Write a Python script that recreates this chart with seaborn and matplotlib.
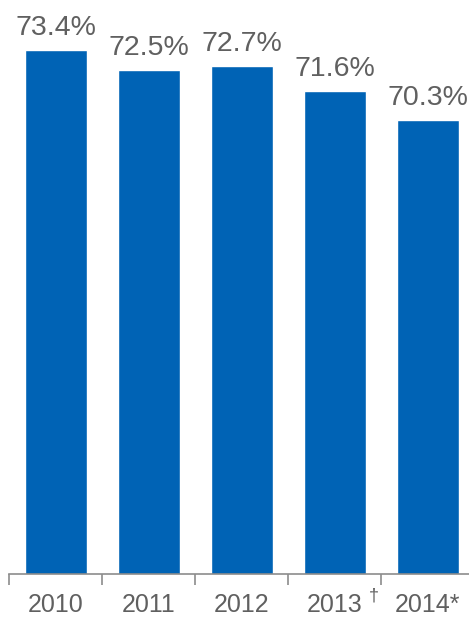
import matplotlib
matplotlib.use("Agg")
import matplotlib.pyplot as plt
import seaborn as sns
import pandas as pd
from matplotlib.ticker import FixedLocator

years = ["2010", "2011", "2012", "2013", "2014*"]
rates = [73.4, 72.5, 72.7, 71.6, 70.3]
value_labels = ["73.4%", "72.5%", "72.7%", "71.6%", "70.3%"]

BAR = "#0063b5"
TEXT = "#606060"
AXIS = "#8c8c8c"

sns.set_theme(style="white")
plt.rcParams["font.family"] = ["Liberation Sans", "DejaVu Sans"]

df = pd.DataFrame({"year": years, "rate": rates})

fig = plt.figure(figsize=(4.69, 6.17), dpi=100)
ax = fig.add_axes([9.3 / 469, 43 / 617, 465 / 469, 574 / 617])

sns.barplot(data=df, x="year", y="rate", color=BAR, saturation=1,
            width=0.667, ax=ax)

ax.set_xlim(-0.5, 4.5)
ax.set_ylim(50.2, 75.61)
ax.set_xlabel("")
ax.set_ylabel("")
ax.set_yticks([])

for s in ("top", "right", "left"):
    ax.spines[s].set_visible(False)
ax.spines["bottom"].set_color(AXIS)
ax.spines["bottom"].set_linewidth(1.2)

ax.set_xticks(range(len(years)))
ax.set_xticklabels(years)
ax.tick_params(axis="x", which="major", length=0, pad=13.5,
               labelsize=18, labelcolor=TEXT)
ax.xaxis.set_minor_locator(FixedLocator([i - 0.5 for i in range(len(years) + 1)]))
ax.tick_params(axis="x", which="minor", length=8, width=1.2,
               color=AXIS, direction="out", bottom=True)

# dagger marker after the 2013 label
ax.annotate("\u2020", xy=(3, 0), xycoords=("data", "axes fraction"),
            xytext=(28, -15.5), textcoords="offset points",
            ha="center", va="center", fontsize=13, color=TEXT)

for i, (v, lab) in enumerate(zip(rates, value_labels)):
    ax.annotate(lab, xy=(i, v), xytext=(0, 10.8), textcoords="offset points",
                ha="center", va="baseline", fontsize=20.5, color=TEXT)

fig.savefig("out.png", dpi=100)
